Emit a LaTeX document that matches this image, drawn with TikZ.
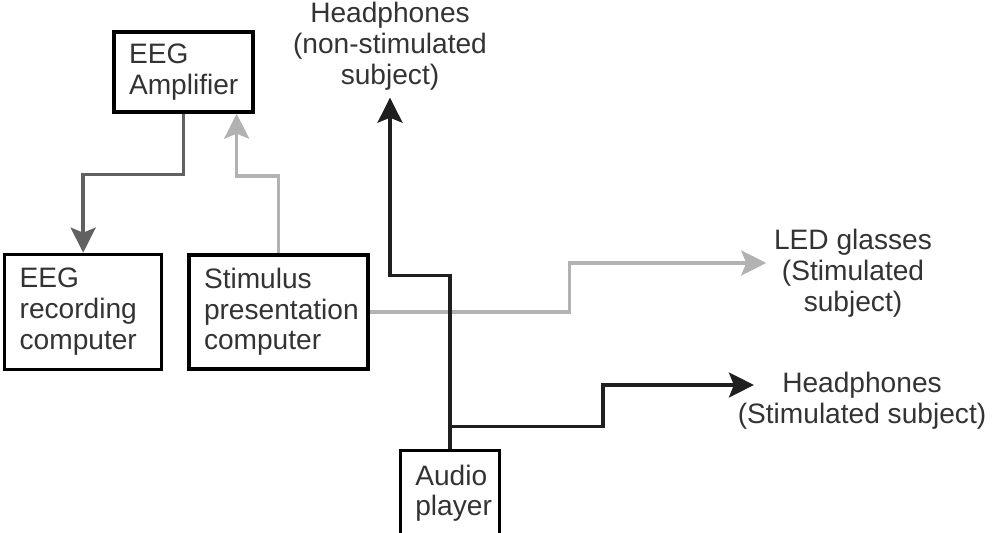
\documentclass[tikz,border=0pt]{standalone}
\usepackage{fontspec}
\setmainfont{Liberation Sans}
\usepackage{tikz}
\usetikzlibrary{calc}
\usetikzlibrary{arrows.meta,positioning}

\begin{document}
\begin{tikzpicture}[
    block/.style={
      rectangle,
      line width=1.9pt,
      align=left,
      inner xsep=0.3cm,
      inner ysep=0pt,
      text=black!80,
      font=\fontsize{16}{17.5}\selectfont
    },
	label/.style={
		align=center,
		inner sep=0.15cm,
		text=black!80,
		font=\fontsize{16}{17.5}\selectfont
	},
	tip/.style={-{Stealth[length=0.5cm,width=0.5cm,inset=0.1cm]}},
	bkline/.style={tip, line width=1.9pt, draw=black!88},
	dkline/.style={tip, line width=1.9pt, draw=black!62},
	ltline/.style={tip, line width=1.9pt, draw=black!30}
]

\useasboundingbox (0,0) rectangle (19.88,-10.66);

\node [block, draw=black, text width=2.18cm, minimum height=1.6cm] (amp) at (3.67,-1.44) {EEG\\Amplifier};
\node [block, draw=black, text width=2.54cm, minimum height=2.3cm] (rec) [below left = 2.78cm and -1.02cm of amp] {EEG\\recording\\computer};
\node [block, draw=black, text width=2.98cm, minimum height=2.28cm] (stim) [right = 0.48cm of rec] {Stimulus\\presentation\\computer};
\node [block, draw=black, text width=1.38cm, minimum height=1.72cm] (audio) [below right = 1.56cm and 0.58cm of stim] {Audio\\player};

\node [label] (hp1) at (7.8,-0.92) {Headphones\\(non-stimulated\\subject)};
\node [label] (led) at (17.06,-5.46) {LED glasses\\(Stimulated\\subject)};
\node [label] (hp2) at (17.24,-8.02) {Headphones\\(Stimulated subject)};

\coordinate (ampin) at ($(amp.south east)+(-0.36,0)$);
\coordinate (split) at ($(audio.north)+(0,0.44)$);
\coordinate (hp2in) at ($(hp2.west)+(0.48,0.32)$);

%%% Arrows
\draw [dkline] (amp.south) -- ++(0,-1.22) -| (rec.north);
\draw [ltline] (stim.north) -- ++(0,1.54) -| (ampin);
\draw [ltline] (stim.east) -- ++(4,0) |- ([yshift=0.2cm]led.west);
\draw [bkline] (audio.north) -- ++(0,3.46) -| (hp1.south);
\draw [bkline] (split) -- ++(3.06,0) |- (hp2in);

\end{tikzpicture}
\end{document}
